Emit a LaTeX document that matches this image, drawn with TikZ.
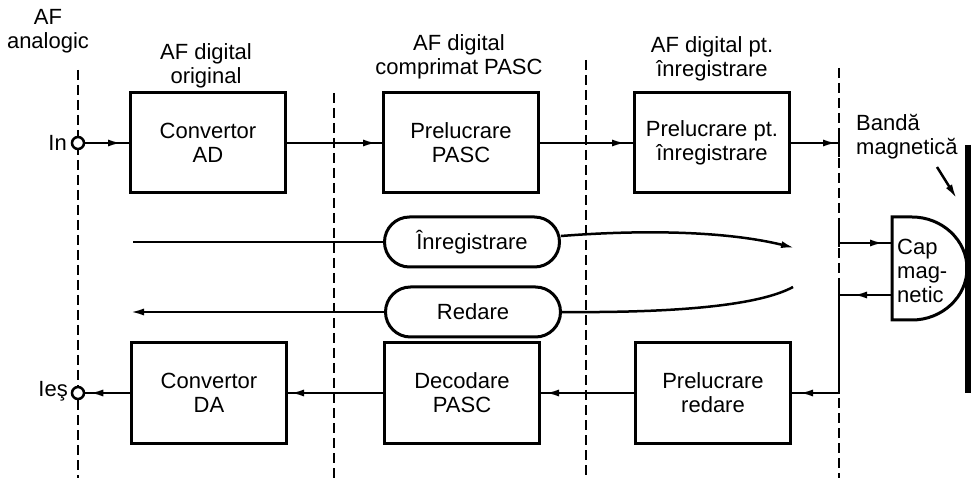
\documentclass[tikz,border=0pt]{standalone}
\usepackage{fontspec}
\setmainfont{Liberation Sans}
\usetikzlibrary{arrows.meta,decorations.markings}
\tikzset{
  blk/.style={draw, line width=3pt, minimum width=155pt, minimum height=100pt, align=center, inner sep=0pt},
  pill/.style={draw, line width=3pt, rounded corners=25pt, minimum height=50pt, align=center, inner sep=0pt},
  conn/.style={line width=2.5pt},
  sep/.style={line width=2.5pt, dash pattern=on 10pt off 5pt},
  endtip/.style={-{Latex[length=14pt,width=7pt]}},
  arrowat/.style={postaction={decorate}, decoration={markings, mark=at position #1 with {\arrow{Latex[length=14pt,width=7pt]}}}},
  lbl/.style={align=center, inner sep=0pt},
  term/.style={circle, draw, line width=2.5pt, fill=white, minimum size=12pt, inner sep=0pt}
}
\begin{document}
\begin{tikzpicture}[x=1pt,y=-1pt, every node/.style={font=\fontsize{22pt}{24pt}\selectfont}]
\useasboundingbox (0,0) rectangle (975,478);
% separators
\draw[sep] (78,70) -- (78,478);
\draw[sep] (334,93) -- (334,478);
\draw[sep] (586,60) -- (586,478);
\draw[sep] (839,68) -- (839,478);
% top labels
\node[lbl] (tAF) at (48,31) {AF\\analogic};
\node[lbl] (t1) at (206,66) {AF digital\\original};
\node[lbl] (t2) at (459,57) {AF digital\\comprimat PASC};
\node[lbl] (t3) at (712,59) {AF digital pt.\\înregistrare};
% boxes
\node[blk] (ad) at (208,143) {Convertor\\AD};
\node[blk] (pasc) at (461,143) {Prelucrare\\PASC};
\node[blk] (prelpt) at (712,143) {Prelucrare pt.\\înregistrare};
\node[blk] (da) at (209,393) {Convertor\\DA};
\node[blk] (dec) at (462,393) {Decodare\\PASC};
\node[blk] (prelred) at (713,393) {Prelucrare\\redare};
% terminals
\node[term] (in) at (78,143) {};
\node[anchor=east, inner sep=0pt] (inl) at (67,143) {In};
\node[term] (out) at (78,393) {};
\node[anchor=east, inner sep=0pt] (outl) at (68,391) {Ieş};
% top chain
\draw[conn, arrowat=-7pt] (in) -- (ad);
\draw[conn, arrowat=-5pt] (ad) -- (pasc);
\draw[conn, arrowat=-7pt] (pasc) -- (prelpt);
\coordinate (busin) at (839,143);
\draw[conn, arrowat=-2pt] (prelpt) -- (busin);
% bus solid segments
\coordinate (b1) at (839,133);
\coordinate (b2) at (839,157);
\draw[conn] (b1) -- (b2);
\coordinate (b3) at (839,218);
\coordinate (b4) at (839,247);
\draw[conn] (b3) -- (b4);
\coordinate (bs) at (839,243);
\coordinate (capin) at (892,243);
\draw[conn, arrowat=-8pt] (bs) -- (capin);
\coordinate (capout) at (892,295);
\coordinate (bo) at (839,295);
\draw[conn, arrowat=-14pt] (capout) -- (bo);
\coordinate (b5) at (839,283);
\coordinate (b6) at (839,393);
\draw[conn, arrowat=-7pt] (b5) -- (b6) -- (prelred.east);
% bottom chain
\draw[conn, arrowat=-4pt] (prelred) -- (dec);
\draw[conn, arrowat=-2pt] (dec) -- (da);
\draw[conn, arrowat=-4pt] (da) -- (out);
% pills
\node[pill, minimum width=175pt] (rec) at (472,242) {Înregistrare};
\node[pill, minimum width=175pt] (play) at (473,312) {Redare};
\coordinate (recin) at (133,242);
\draw[conn] (recin) -- (rec.west);
\coordinate (recend) at (795,248);
\draw[conn, endtip] ([yshift=6pt]rec.east) .. controls (650,229) and (730,232) .. (recend);
\coordinate (playstart) at (793,287);
\draw[conn] (playstart) .. controls (760,305) and (680,313) .. (play.east);
\coordinate (playend) at (130,312);
\draw[conn, endtip] (play.west) -- (playend);
% magnetic head
\draw[line width=3pt] (892,217) -- (912,217) .. controls (942,217) and (967,240) .. (967,268.5) .. controls (967,297) and (942,320) .. (912,320) -- (892,320) -- cycle;
\node[anchor=west, align=left, inner sep=0pt] (cap) at (897,271) {Cap\\mag-\\netic};
% tape
\coordinate (band1) at (968,145);
\coordinate (band2) at (968,393);
\draw[line width=5.5pt] (band1) -- (band2);
\node[anchor=west, align=left, inner sep=0pt] (bandl) at (856,137) {Bandă\\magnetică};
\coordinate (ba1) at (937,167);
\coordinate (ba2) at (957,199);
\draw[line width=2.5pt, -{Latex[length=15pt,width=7pt]}] (ba1) -- (ba2);
\end{tikzpicture}
\end{document}
